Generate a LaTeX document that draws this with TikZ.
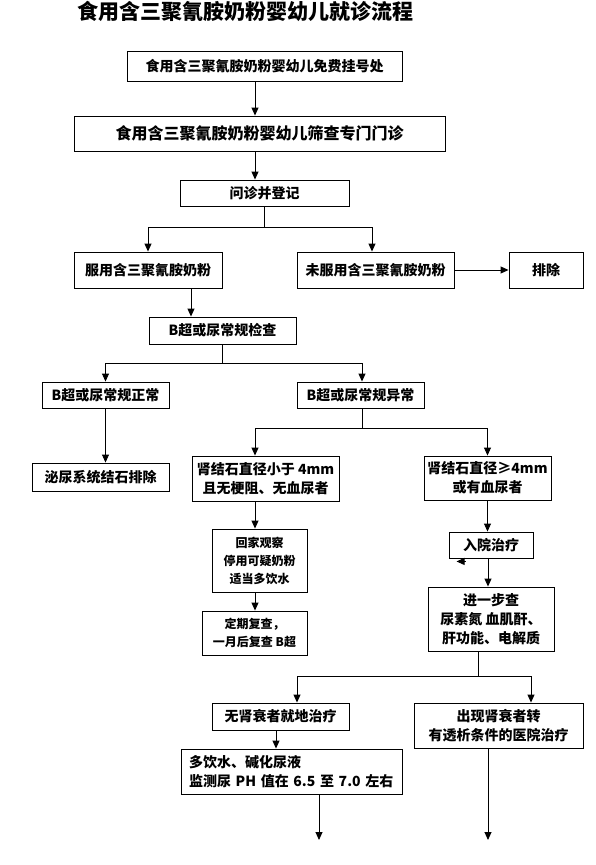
\documentclass[tikz,border=0pt]{standalone}
\usepackage{fontspec}
\setmainfont{Noto Sans CJK SC}
\usetikzlibrary{arrows.meta}

\tikzset{
    box/.style={draw, line width=0.9pt, inner sep=0pt, align=center,
        font=\bfseries\fontsize{14}{19}\selectfont},
    smalltext/.style={font=\bfseries\fontsize{12}{18}\selectfont},
    link/.style={line width=0.9pt},
    arr/.style={line width=0.9pt, -{Triangle[width=7pt,length=8pt]}}
}

\begin{document}
\begin{tikzpicture}[x=1pt,y=-1pt]
    \useasboundingbox (0,0) rectangle (595,865);
    \node[font=\bfseries\fontsize{21}{24}\selectfont] (title) at (245.5,11) {食用含三聚氰胺奶粉婴幼儿就诊流程};

    % Registration and first questions
    \node[box, minimum width=275pt, minimum height=30pt] (reg) at (264.5,66) {食用含三聚氰胺奶粉婴幼儿免费挂号处};
    \node[box, minimum width=371pt, minimum height=35pt, font=\bfseries\fontsize{16}{19}\selectfont] (screen) at (259.5,133.5) {食用含三聚氰胺奶粉婴幼儿筛查专门门诊};
    \node[box, minimum width=169pt, minimum height=26pt] (inquiry) at (264.5,193) {问诊并登记};
    \node[box, minimum width=148pt, minimum height=36pt] (taken) at (148,270) {服用含三聚氰胺奶粉};
    \node[box, minimum width=157pt, minimum height=36pt] (nottaken) at (375.5,270) {未服用含三聚氰胺奶粉};
    \node[box, minimum width=74pt, minimum height=36pt] (exclude) at (546,270) {排除};

    % Examination
    \node[box, minimum width=147pt, minimum height=27pt] (bscan) at (222.5,330.5) {B超或尿常规检查};
    \node[box, minimum width=127pt, minimum height=26pt] (normal) at (105.5,395) {B超或尿常规正常};
    \node[box, minimum width=127pt, minimum height=26pt] (abnormal) at (360.5,395) {B超或尿常规异常};
    \node[box, minimum width=137pt, minimum height=28pt] (nostone) at (100.5,477) {泌尿系统结石排除};
    \node[box, minimum width=147pt, minimum height=45pt] (stoneS) at (265.5,478.5) {肾结石直径小于 4mm\\且无梗阻、无血尿者};
    \node[box, minimum width=127pt, minimum height=44pt] (stoneL) at (487.5,478) {肾结石直径≥4mm\\或有血尿者};

    % Treatment
    \node[box, smalltext, minimum width=95pt, minimum height=63pt] (home) at (259.5,560.5) {回家观察\\停用可疑奶粉\\适当多饮水};
    \node[box, smalltext, minimum width=105pt, minimum height=44pt] (review) at (254.5,633) {定期复查，\\一月后复查 B超};
    \node[box, minimum width=84pt, minimum height=26pt] (admit) at (491,545) {入院治疗};
    \node[box, minimum width=126pt, minimum height=64pt] (further) at (491,619) {进一步查\\尿素氮 血肌酐、\\肝功能、电解质};
    \node[box, minimum width=137pt, minimum height=27pt] (local) at (280.5,716.5) {无肾衰者就地治疗};
    \node[box, minimum width=169pt, minimum height=45pt] (transfer) at (498.5,725.5) {出现肾衰者转\\有透析条件的医院治疗};
    \node[box, inner xsep=8pt, text width=205pt, minimum height=45pt, align=left] (drink) at (291.5,771.5) {多饮水、碱化尿液\\监测尿 PH 值在 6.5 至 7.0 左右};

    % Connectors
    \draw[arr] ([xshift=-9.5pt]reg.south) -- ([xshift=-9.5pt]reg.south |- screen.north);
    \draw[arr] ([xshift=-4.5pt]screen.south) -- ([xshift=-4.5pt]screen.south |- inquiry.north);
    \coordinate (fork1) at (264.5,227);
    \draw[link] (inquiry.south) -- (fork1);
    \draw[arr] (fork1) -| (taken.north);
    \draw[arr] (fork1) -| ([xshift=-3.5pt]nottaken.north);
    \draw[arr] (nottaken.east) -- (exclude.west);
    \draw[arr] ([xshift=43pt]taken.south) -- ([xshift=43pt]taken.south |- bscan.north);

    \coordinate (fork2) at (222.5,363);
    \draw[link] (bscan.south) -- (fork2);
    \draw[arr] (fork2) -| (normal.north);
    \draw[arr] (fork2) -| ([xshift=1.5pt]abnormal.north);
    \draw[arr] (normal.south) -- (normal.south |- nostone.north);

    \coordinate (fork3) at (362,428);
    \draw[link] ([xshift=1.5pt]abnormal.south) -- (fork3);
    \draw[arr] (fork3) -| ([xshift=-10.5pt]stoneS.north);
    \draw[arr] (fork3) -| (stoneL.north);
    \draw[arr] ([xshift=-10.5pt]stoneS.south) -- ([xshift=-10.5pt]stoneS.south |- home.north);
    \draw[arr] ([xshift=-4.5pt]home.south) -- ([xshift=-4.5pt]home.south |- review.north);
    \draw[arr] (stoneL.south) -- (stoneL.south |- admit.north);
    \draw[arr] ([xshift=-3pt]admit.south) -- ([xshift=-3pt]admit.south |- further.north);
    \draw[arr] ([xshift=17pt,yshift=-3pt]admit.south west) -- ++(-9,0);

    \coordinate (fork4) at (478,676);
    \draw[link] ([xshift=-13pt]further.south) -- (fork4);
    \draw[arr] (fork4) -| ([xshift=16.5pt]local.north);
    \draw[arr] (fork4) -| ([xshift=32.5pt]transfer.north);
    \draw[arr] ([xshift=-4.5pt]local.south) -- ([xshift=-4.5pt]local.south |- drink.north);

    % Open ends
    \coordinate (endA) at (319,840);
    \coordinate (endB) at (488,840);
    \draw[arr] (drink.south -| endA) -- (endA);
    \draw[arr] (transfer.south -| endB) -- (endB);
\end{tikzpicture}
\end{document}
